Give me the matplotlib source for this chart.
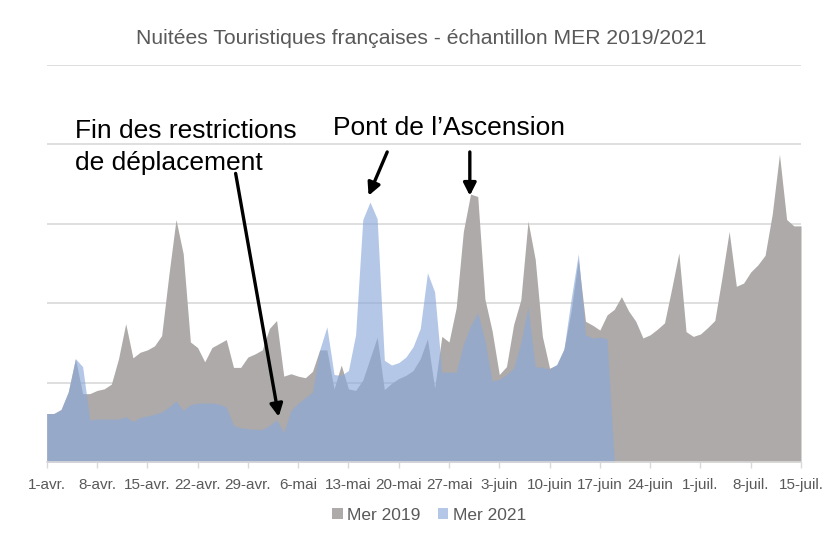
import matplotlib
matplotlib.use("Agg")
import matplotlib.pyplot as plt
from matplotlib.patches import Patch
import numpy as np

plt.rcParams['font.family'] = ['Liberation Sans', 'DejaVu Sans']

title = "Nuitées Touristiques françaises - échantillon MER 2019/2021"
tick_labels = ["1-avr.", "8-avr.", "15-avr.", "22-avr.", "29-avr.", "6-mai", "13-mai",
               "20-mai", "27-mai", "3-juin", "10-juin", "17-juin", "24-juin", "1-juil.",
               "8-juil.", "15-juil."]
series_names = ["Mer 2019", "Mer 2021"]

# daily values, 1 avril -> 15 juillet (relative units, one gridline = 1)
mer2019 = [0.61, 0.61, 0.66, 0.88, 1.30, 0.86, 0.86, 0.90, 0.92, 0.98,
           1.30, 1.74, 1.31, 1.38, 1.41, 1.46, 1.59, 2.35, 3.05, 2.62,
           1.51, 1.44, 1.26, 1.44, 1.49, 1.54, 1.19, 1.19, 1.32, 1.36,
           1.41, 1.68, 1.78, 1.08, 1.11, 1.08, 1.06, 1.14, 1.41, 1.41,
           0.92, 1.22, 0.92, 0.90, 1.03, 1.30, 1.57, 0.91, 0.99, 1.05,
           1.09, 1.15, 1.30, 1.55, 0.93, 1.58, 1.51, 1.94, 2.90, 3.37,
           3.34, 2.05, 1.65, 1.10, 1.20, 1.73, 2.04, 3.03, 2.55, 1.58,
           1.18, 1.22, 1.42, 1.90, 2.55, 1.77, 1.72, 1.66, 1.85, 1.92,
           2.08, 1.90, 1.77, 1.56, 1.60, 1.67, 1.75, 2.18, 2.63, 1.64,
           1.58, 1.61, 1.69, 1.78, 2.32, 2.90, 2.21, 2.25, 2.39, 2.48,
           2.60, 3.12, 3.87, 3.05, 2.97, 2.97]
mer2021 = [0.61, 0.61, 0.66, 0.88, 1.30, 1.20, 0.53, 0.54, 0.54, 0.54,
           0.54, 0.57, 0.51, 0.56, 0.58, 0.60, 0.63, 0.69, 0.77, 0.65,
           0.72, 0.74, 0.74, 0.74, 0.73, 0.69, 0.46, 0.43, 0.42, 0.41,
           0.41, 0.46, 0.53, 0.37, 0.65, 0.74, 0.81, 0.88, 1.41, 1.70,
           1.10, 1.09, 1.15, 1.60, 3.05, 3.27, 3.06, 1.28, 1.22, 1.25,
           1.32, 1.45, 1.68, 2.38, 2.14, 1.13, 1.13, 1.13, 1.48, 1.71,
           1.88, 1.53, 1.02, 1.04, 1.10, 1.18, 1.50, 1.95, 1.20, 1.19,
           1.17, 1.23, 1.42, 2.05, 2.62, 1.60, 1.56, 1.57, 1.55, 0.0]

c2019 = "#ADAAA9"
c2021 = "#8CA9DA"
a2021 = 0.65
text_grey = "#595959"
grid_grey = "#D9D9D9"

fig = plt.figure(figsize=(8.35, 5.35), dpi=100)
ax = fig.add_axes([46.7/835, 1-462/535, (801-46.7)/835, (462-64.5)/535])

x19 = np.arange(len(mer2019))
x21 = np.arange(len(mer2021))
ax.fill_between(x19, 0, mer2019, color=c2019, linewidth=0, zorder=2)
ax.fill_between(x21, 0, mer2021, color=c2021, alpha=a2021, linewidth=0, zorder=3)

ax.set_xlim(0, len(mer2019) - 1)
ax.set_ylim(0, 5)
ax.set_yticks([1, 2, 3, 4, 5])
ax.yaxis.grid(True, color=grid_grey, linewidth=1.2, zorder=1)
ax.set_axisbelow(True)
ax.tick_params(axis='y', left=False, labelleft=False)
ax.set_xticks(np.arange(0, len(mer2019), 7))
ax.set_xticklabels(tick_labels)
ax.tick_params(axis='x', length=4, width=1, color=grid_grey, pad=7.5,
               labelsize=11, labelcolor=text_grey, direction='out')
for s in ['top', 'right', 'left']:
    ax.spines[s].set_visible(False)
ax.spines['bottom'].set_color(grid_grey)
ax.spines['bottom'].set_linewidth(1.2)
ax.spines['bottom'].set_zorder(4)

fig.text(0.505, 1-38.5/535, title, ha='center', va='center', fontsize=15.2, color=text_grey)

# annotations
ax.text(3.94, 3.96, "Fin des restrictions\nde déplacement", ha='left', va='center',
        fontsize=19, color='black', linespacing=1.4, zorder=6)
ax.text(39.9, 4.2, "Pont de l’Ascension", ha='left', va='center',
        fontsize=19, color='black', zorder=6)
arrow = dict(arrowstyle='-|>,head_length=0.75,head_width=0.38', color='black', lw=2.4,
             shrinkA=0, shrinkB=0)
ax.annotate("", xy=(32.3, 0.57), xytext=(26.3, 3.63), arrowprops=arrow, zorder=6,
            annotation_clip=False)
ax.annotate("", xy=(44.8, 3.35), xytext=(47.4, 3.90), arrowprops=arrow, zorder=6,
            annotation_clip=False)
ax.annotate("", xy=(58.9, 3.35), xytext=(58.9, 3.90), arrowprops=arrow, zorder=6,
            annotation_clip=False)

handles = [Patch(facecolor=c2019, edgecolor='none'),
           Patch(facecolor=c2021, alpha=a2021, edgecolor='none')]
fig.legend(handles, series_names, loc='center', bbox_to_anchor=(0.514, 1-515/535),
           ncol=2, frameon=False, fontsize=12.5, labelcolor=text_grey,
           handlelength=0.6, handleheight=0.6, handletextpad=0.25, columnspacing=1.0)

fig.savefig("out.png", dpi=100)
